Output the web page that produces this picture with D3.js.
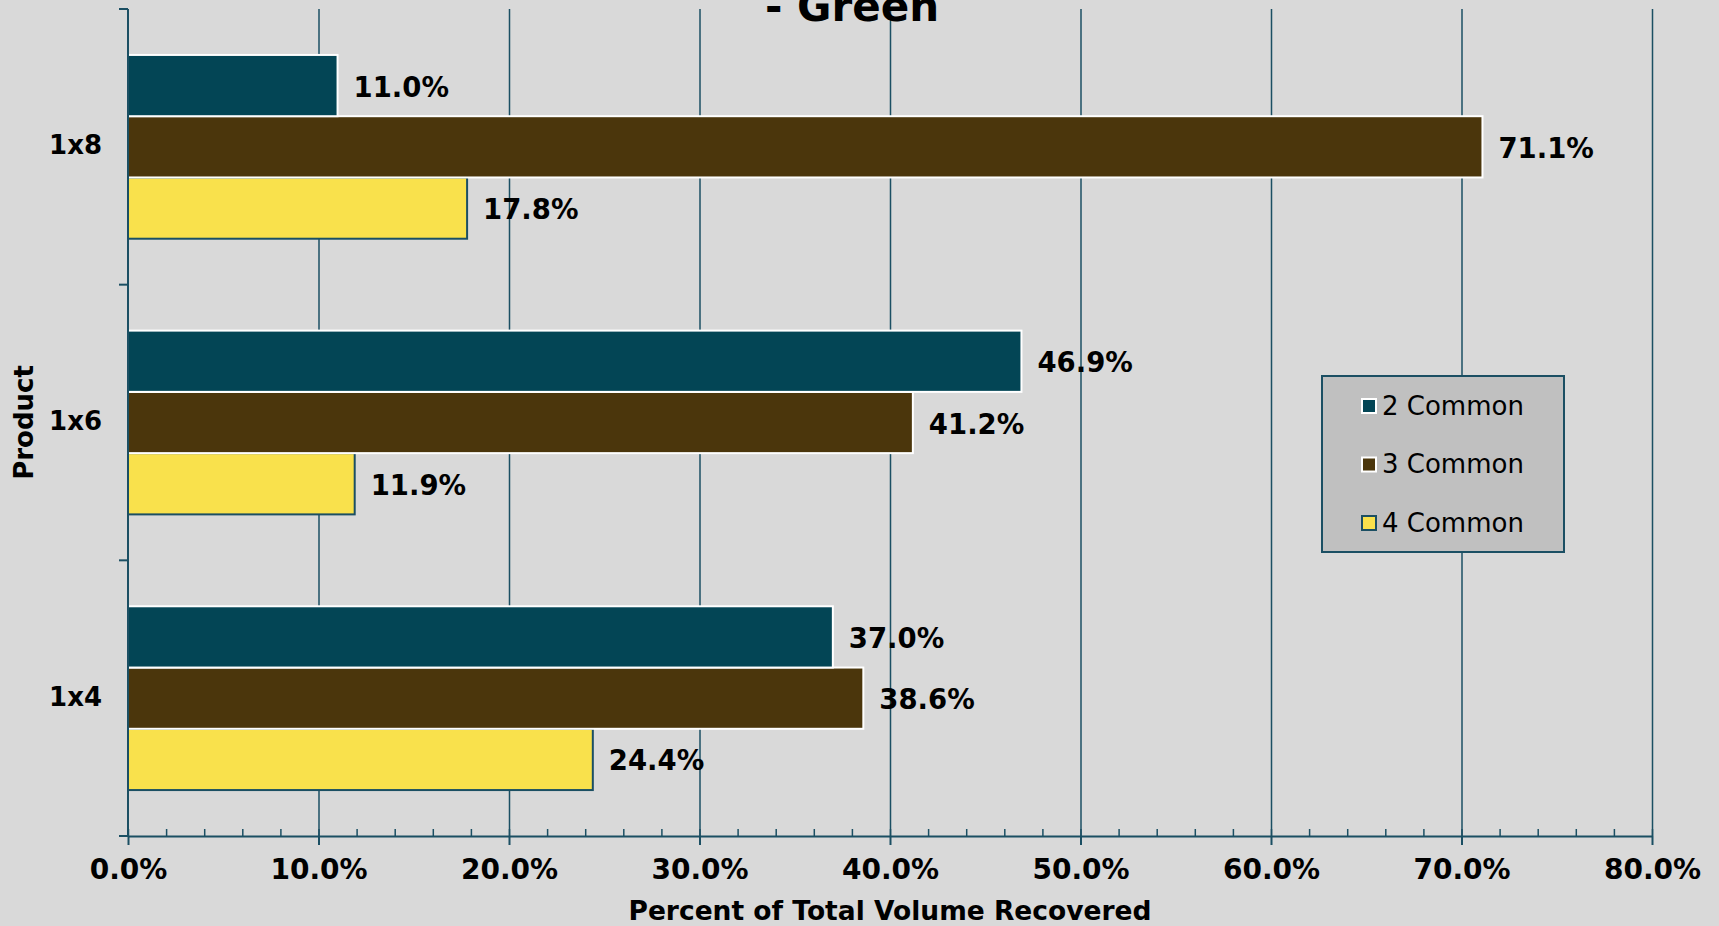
<!DOCTYPE html>
<html>
<head>
<meta charset="utf-8">
<script src="https://cdn.jsdelivr.net/npm/d3@7"></script>
<style>
  html, body { margin: 0; padding: 0; background: #d9d9d9; }
  svg { display: block; }
</style>
</head>
<body>
<script>
// Chart data
const categories = ["1x8", "1x6", "1x4"];
const seriesNames = ["2 Common", "3 Common", "4 Common"];
const common2 = [11.0, 46.9, 37.0];
const common3 = [71.1, 41.2, 38.6];
const common4 = [17.8, 11.9, 24.4];
const xTickValues = [0, 10, 20, 30, 40, 50, 60, 70, 80];
const titleText = "- Green";
const xTitle = "Percent of Total Volume Recovered";
const yTitle = "Product";

const seriesValues = [common2, common3, common4];
const colors = ["#034555", "#4b360c", "#f9e14c"];
const strokes = ["#ffffff", "#ffffff", "#1b4f63"];
const axisColor = "#1b4f63";

const W = 1719, H = 926;
const plotL = 128, plotR = 1652, plotT = 9, plotB = 836;

const svg = d3.select("body").append("svg").attr("width", W).attr("height", H);
svg.append("rect").attr("width", W).attr("height", H).attr("fill", "#d9d9d9");

const x = d3.scaleLinear().domain([0, 80]).range([plotL, plotR]);
const y0 = d3.scaleBand().domain(categories).range([plotT, plotB]).padding(0);
const y1 = d3.scaleBand().domain(seriesNames).range([0, y0.bandwidth()])
  .paddingInner(0).paddingOuter(0.75);

const pct = d3.format(".1f");

// Vertical gridlines
const grid = svg.append("g").attr("transform", `translate(0,${plotB})`)
  .call(d3.axisBottom(x).tickValues(xTickValues.slice(1)).tickSize(-(plotB - plotT)).tickFormat(""));
grid.select(".domain").remove();
grid.selectAll("line").attr("stroke", axisColor).attr("stroke-width", 1.5);

// Bars (last series drawn first so the white outlines sit on top)
const rows = [];
categories.forEach((c, i) => {
  seriesNames.forEach((s, j) => rows.push({ cat: c, s, j, v: seriesValues[j][i] }));
});
rows.sort((a, b) => b.j - a.j);

svg.append("g").selectAll("rect").data(rows).join("rect")
  .attr("x", x(0))
  .attr("y", d => y0(d.cat) + y1(d.s))
  .attr("width", d => x(d.v) - x(0))
  .attr("height", y1.bandwidth())
  .attr("fill", d => colors[d.j])
  .attr("stroke", d => strokes[d.j])
  .attr("stroke-width", 2);

// Value labels
svg.append("g").selectAll("text").data(rows).join("text")
  .attr("x", d => x(d.v) + 16)
  .attr("y", d => y0(d.cat) + y1(d.s) + y1.bandwidth() / 2 + 3)
  .attr("dominant-baseline", "middle")
  .attr("font-family", "DejaVu Sans, Verdana, sans-serif")
  .attr("font-weight", "bold")
  .attr("font-size", 27.5)
  .attr("fill", "#000")
  .text(d => pct(d.v) + "%");

// Y axis line with ticks at the category boundaries
const yAxis = svg.append("g");
yAxis.append("line").attr("x1", plotL).attr("x2", plotL).attr("y1", plotT).attr("y2", plotB)
  .attr("stroke", axisColor).attr("stroke-width", 2);
const bounds = categories.map(c => y0(c)).concat([y0.range()[1]]);
yAxis.selectAll("line.tick").data(bounds).join("line").attr("class", "tick")
  .attr("x1", plotL - 9).attr("x2", plotL).attr("y1", d => d).attr("y2", d => d)
  .attr("stroke", axisColor).attr("stroke-width", 2);

// Category labels
svg.append("g").selectAll("text").data(categories).join("text")
  .attr("x", 102)
  .attr("y", d => y0(d) + y0.bandwidth() / 2)
  .attr("text-anchor", "end")
  .attr("dominant-baseline", "middle")
  .attr("font-family", "DejaVu Sans, Verdana, sans-serif")
  .attr("font-weight", "bold")
  .attr("font-size", 26)
  .text(d => d);

// X axis: minor ticks above, major ticks below
const minor = svg.append("g").attr("transform", `translate(0,${plotB})`)
  .call(d3.axisBottom(x).tickValues(d3.range(0, 81, 2)).tickSize(-7).tickFormat(""));
minor.select(".domain").remove();
minor.selectAll("line").attr("stroke", axisColor).attr("stroke-width", 1.5);

const xAxis = svg.append("g").attr("transform", `translate(0,${plotB})`)
  .call(d3.axisBottom(x).tickValues(xTickValues).tickSize(9).tickPadding(14)
    .tickFormat(d => pct(d) + "%"));
xAxis.select(".domain").attr("stroke", axisColor).attr("stroke-width", 2)
  .attr("d", `M${plotL},0.5H${plotR}`);
xAxis.selectAll("line").attr("stroke", axisColor).attr("stroke-width", 2);
xAxis.selectAll("text")
  .attr("font-family", "DejaVu Sans, Verdana, sans-serif")
  .attr("font-weight", "bold")
  .attr("font-size", 28)
  .attr("fill", "#000");

// Axis titles
svg.append("text")
  .attr("x", (plotL + plotR) / 2).attr("y", 920)
  .attr("text-anchor", "middle")
  .attr("font-family", "DejaVu Sans, Verdana, sans-serif")
  .attr("font-weight", "bold").attr("font-size", 26.5)
  .text(xTitle);

svg.append("text")
  .attr("transform", `translate(33,${(plotT + plotB) / 2}) rotate(-90)`)
  .attr("text-anchor", "middle")
  .attr("font-family", "DejaVu Sans, Verdana, sans-serif")
  .attr("font-weight", "bold").attr("font-size", 26)
  .text(yTitle);

// Title (second line of a taller heading)
svg.append("text")
  .attr("x", 852).attr("y", 21)
  .attr("text-anchor", "middle")
  .attr("font-family", "DejaVu Sans, Verdana, sans-serif")
  .attr("font-weight", "bold").attr("font-size", 42)
  .text(titleText);

// Legend
const lg = svg.append("g").attr("transform", "translate(1322,376)");
lg.append("rect").attr("width", 242).attr("height", 176)
  .attr("fill", "#c0c0c0").attr("stroke", axisColor).attr("stroke-width", 2);
const items = lg.selectAll("g.item").data(seriesNames).join("g").attr("class", "item")
  .attr("transform", (d, i) => `translate(0,${30 + i * 58.5})`);
items.append("rect").attr("x", 40).attr("y", -7).attr("width", 14).attr("height", 14)
  .attr("fill", (d, i) => colors[i]).attr("stroke", (d, i) => strokes[i]).attr("stroke-width", 2);
items.append("text").attr("x", 60).attr("y", 1)
  .attr("dominant-baseline", "middle")
  .attr("font-family", "DejaVu Sans, Verdana, sans-serif")
  .attr("font-size", 26)
  .text(d => d);
</script>
</body>
</html>
